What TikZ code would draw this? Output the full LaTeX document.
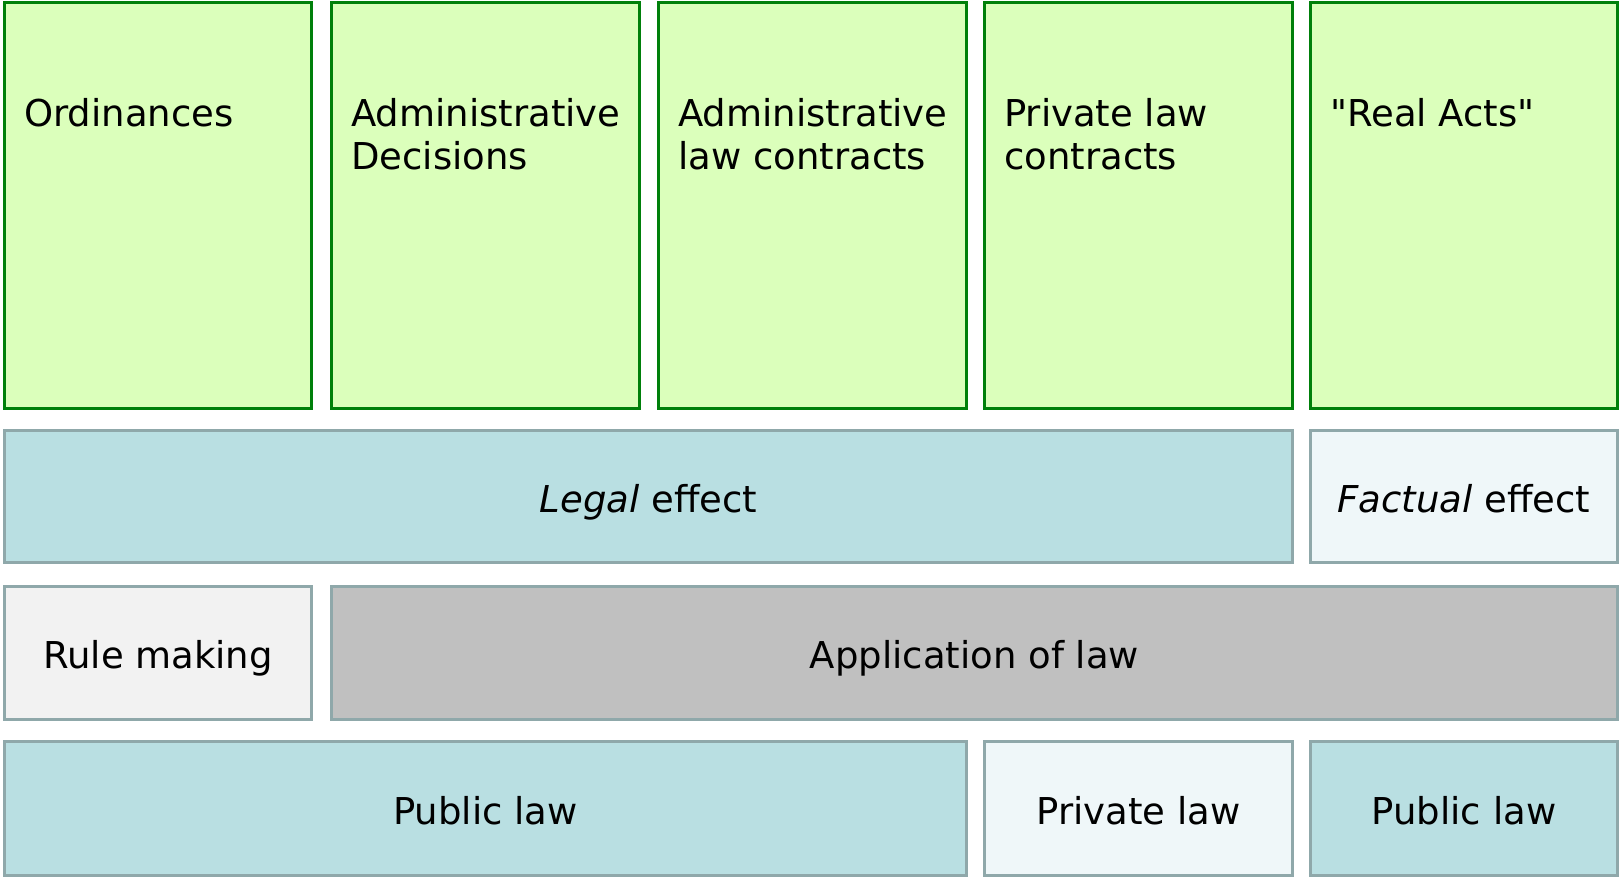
\documentclass[tikz,border=0pt]{standalone}
\usepackage{fontspec}
\setmainfont{DejaVu Sans}
\definecolor{gfill}{HTML}{DBFFBB}
\definecolor{gline}{HTML}{00800A}
\definecolor{tline}{HTML}{8FA8AA}
\definecolor{teal}{HTML}{B9DFE2}
\definecolor{pale}{HTML}{EFF7F9}
\definecolor{lgray}{HTML}{F2F2F2}
\definecolor{mgray}{HTML}{C0C0C0}
\tikzset{
  gbox/.style={draw=gline, fill=gfill, line width=3pt, rectangle, inner sep=0pt, anchor=north west},
  rbox/.style={draw=tline, line width=3pt, rectangle, inner sep=0pt, anchor=center, text height=33pt, text depth=2pt, font={\fontsize{37}{43}\selectfont}},
  gtext/.style={inner sep=0pt, align=left, anchor=base west, font={\fontsize{37}{43}\selectfont}}
}
\begin{document}
\begin{tikzpicture}[x=1pt,y=-1pt]
\useasboundingbox (0,0) rectangle (1620,877);
% green column boxes
\node[gbox, minimum width=307pt, minimum height=406pt] (c1) at (3,1) {};
\node[gbox, minimum width=308pt, minimum height=406pt] (c2) at (330,1) {};
\node[gbox, minimum width=308pt, minimum height=406pt] (c3) at (657,1) {};
\node[gbox, minimum width=308pt, minimum height=406pt] (c4) at (983,1) {};
\node[gbox, minimum width=307pt, minimum height=406pt] (c5) at (1309,1) {};
\node[gtext] (t1) at (24,127) {Ordinances};
\node[gtext] (t2) at (351,170) {Administrative\\Decisions};
\node[gtext] (t3) at (678,170) {Administrative\\law contracts};
\node[gtext] (t4) at (1004,170) {Private law\\contracts};
\node[gtext] (t5) at (1330,127) {\textquotedbl Real Acts\textquotedbl};
% effect row
\node[rbox, fill=teal, minimum width=1288pt, minimum height=132pt] (legal) at (648.5,496.5) {\textit{Legal} effect};
\node[rbox, fill=pale, minimum width=307pt, minimum height=132pt] (factual) at (1464,496.5) {\textit{Factual} effect};
% rule row
\node[rbox, fill=lgray, minimum width=307pt, minimum height=133pt] (rule) at (158,653) {Rule making};
\node[rbox, fill=mgray, minimum width=1286pt, minimum height=133pt] (appl) at (974.5,653) {Application of law};
% law row
\node[rbox, fill=teal, minimum width=962pt, minimum height=134pt] (pub1) at (485.5,808.5) {Public law};
\node[rbox, fill=pale, minimum width=308pt, minimum height=134pt] (priv) at (1138.5,808.5) {Private law};
\node[rbox, fill=teal, minimum width=307pt, minimum height=134pt] (pub2) at (1464,808.5) {Public law};
\end{tikzpicture}
\end{document}
